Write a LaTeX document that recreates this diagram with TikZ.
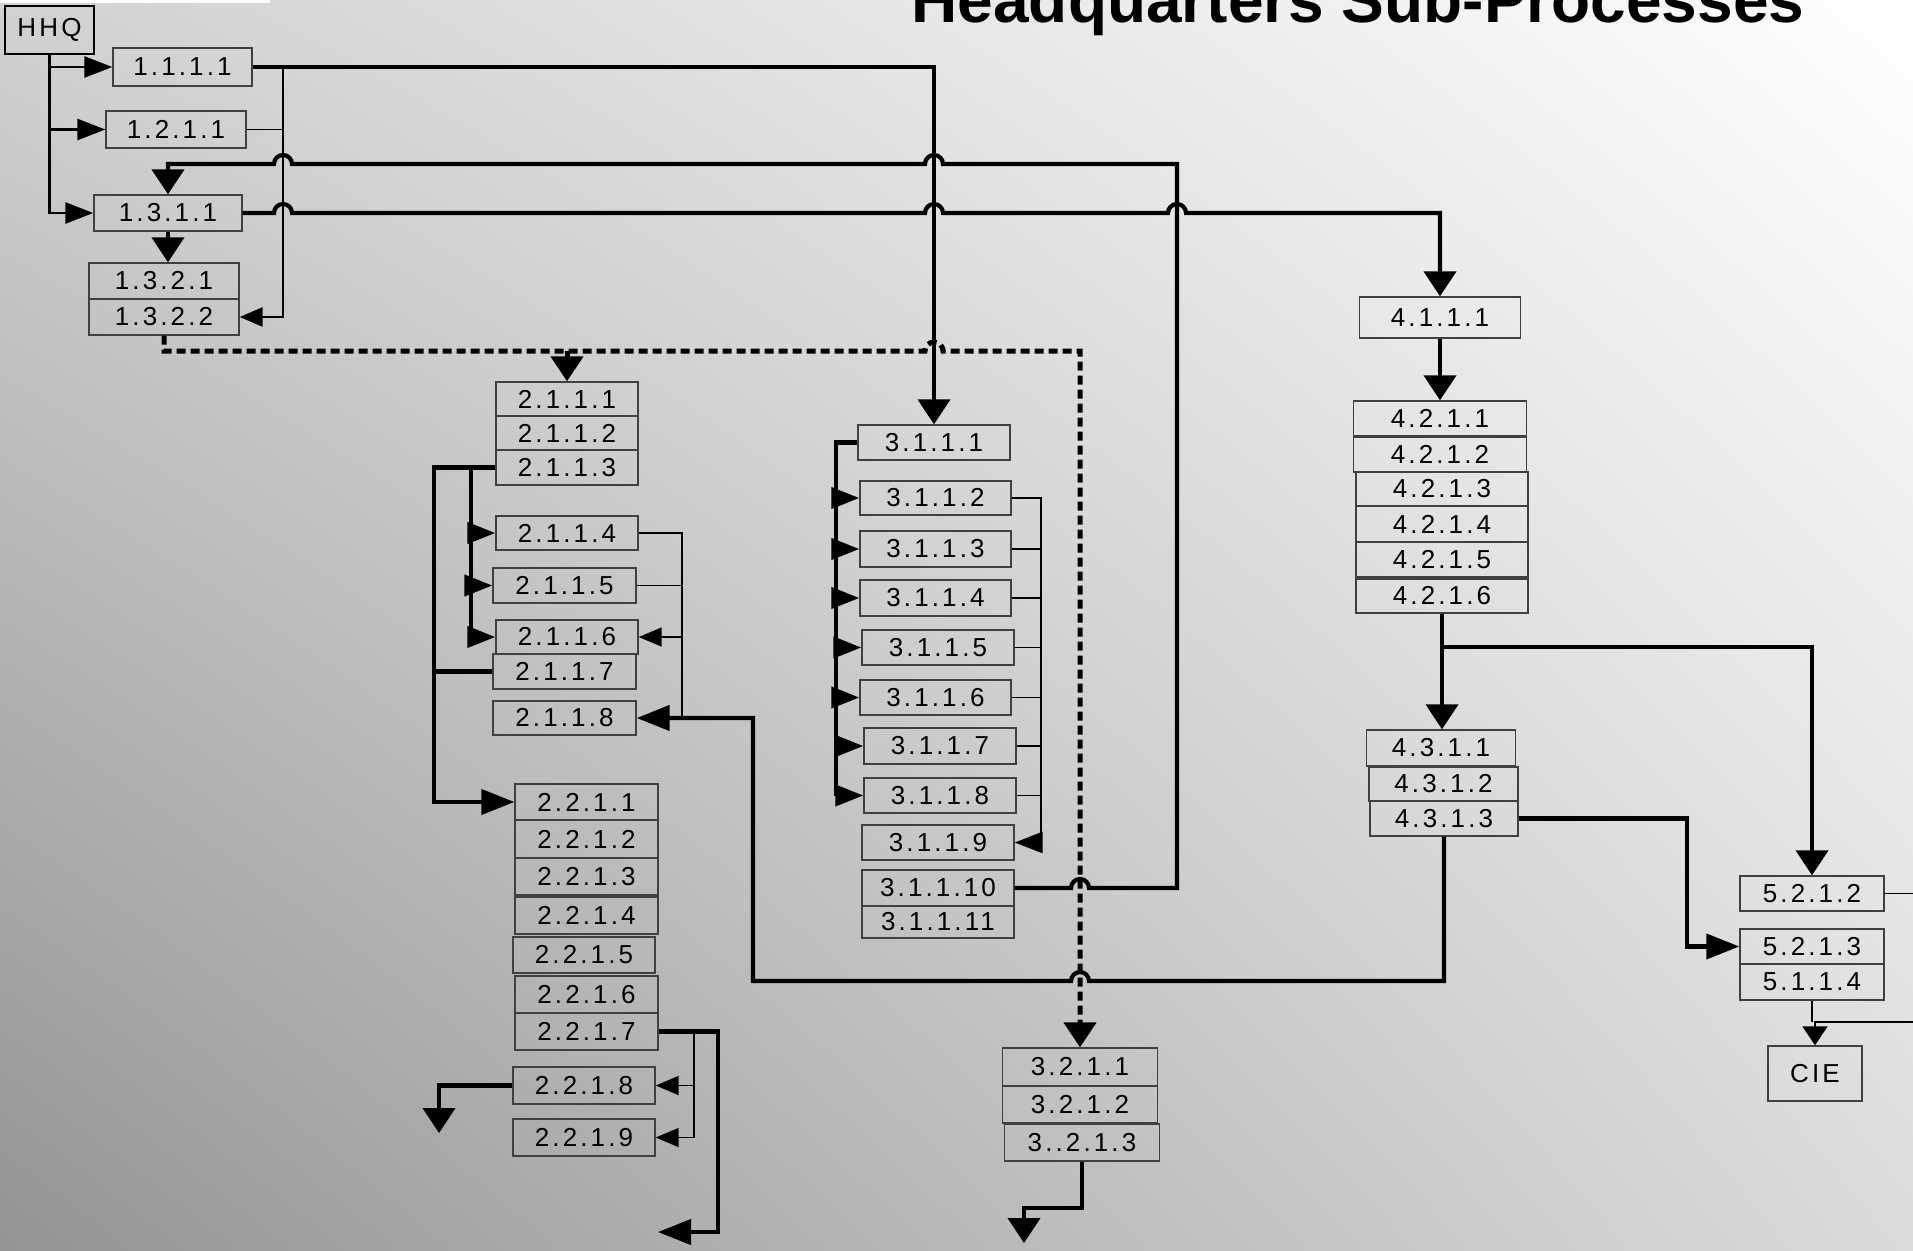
\documentclass[tikz,border=0pt]{standalone}
\usepackage{fontspec}
\setmainfont{Liberation Sans}
\newfontfamily\lblfont[LetterSpace=12]{Liberation Sans}
\usetikzlibrary{arrows.meta,shadings}
\tikzset{
  harrow/.tip={Triangle[length=28pt,width=21pt]},
  barrow/.tip={Triangle[length=33pt,width=25pt]},
  varrow/.tip={Triangle[length=25pt,width=32pt]},
  sarrow/.tip={Triangle[length=23pt,width=19pt]},
  carrow/.tip={Triangle[length=19pt,width=25pt]},
}
\begin{document}
\begin{tikzpicture}[x=1pt,y=-1pt,
    proc/.style={draw=black!75,line width=1.4pt,inner sep=0pt,font=\lblfont\fontsize{26}{28}\selectfont},
    sz/.style 2 args={minimum width=#1pt,minimum height=#2pt},
    heavyline/.style={line width=4.2pt},
    midline/.style={line width=2.8pt},
    thinline/.style={line width=1.6pt},
    dashline/.style={line width=5pt,dash pattern=on 9pt off 5pt}]
  \useasboundingbox (0,0) rectangle (1913,1250);
  \shade[upper left=black!18,upper right=white,lower left=black!42,lower right=black!14] (0,0) rectangle (1913,1250);
  \fill[white] (0,0) rectangle (270,3);
  \begin{scope}
    \clip (0,0) rectangle (1913,1250);
    \node[font=\fontsize{64}{70}\selectfont\bfseries,anchor=base] (title) at (1358,22) {Headquarters Sub-Processes};
  \end{scope}

  \node[proc,sz={89}{48},draw=black,line width=2.4pt] (hhq) at (49.5,30) {HHQ};
  \node[proc,sz={139}{38}] (p1111) at (182.5,67) {1.1.1.1};
  \node[proc,sz={140}{37}] (p1211) at (176,129.5) {1.2.1.1};
  \node[proc,sz={148}{36}] (p1311) at (168,213) {1.3.1.1};
  \node[proc,sz={150}{36}] (p1321) at (164,281) {1.3.2.1};
  \node[proc,sz={150}{36}] (p1322) at (164,317) {1.3.2.2};

  \node[proc,sz={142}{34}] (p2111) at (567,399) {2.1.1.1};
  \node[proc,sz={142}{34}] (p2112) at (567,433) {2.1.1.2};
  \node[proc,sz={142}{35}] (p2113) at (567,467.5) {2.1.1.3};
  \node[proc,sz={142}{34}] (p2114) at (567,533) {2.1.1.4};
  \node[proc,sz={143}{35}] (p2115) at (564.5,585.5) {2.1.1.5};
  \node[proc,sz={142}{34}] (p2116) at (567,637) {2.1.1.6};
  \node[proc,sz={143}{35}] (p2117) at (564.5,671.5) {2.1.1.7};
  \node[proc,sz={143}{34}] (p2118) at (564.5,718) {2.1.1.8};

  \node[proc,sz={143}{36}] (p2211) at (586.5,802) {2.2.1.1};
  \node[proc,sz={143}{38}] (p2212) at (586.5,839) {2.2.1.2};
  \node[proc,sz={143}{37}] (p2213) at (586.5,876.5) {2.2.1.3};
  \node[proc,sz={143}{37}] (p2214) at (586.5,915.5) {2.2.1.4};
  \node[proc,sz={142}{36}] (p2215) at (584,955) {2.2.1.5};
  \node[proc,sz={143}{37}] (p2216) at (586.5,994.5) {2.2.1.6};
  \node[proc,sz={143}{37}] (p2217) at (586.5,1031.5) {2.2.1.7};
  \node[proc,sz={142}{37}] (p2218) at (584,1085.5) {2.2.1.8};
  \node[proc,sz={142}{37}] (p2219) at (584,1137.5) {2.2.1.9};

  \node[proc,sz={152}{35}] (p3111) at (934,442.5) {3.1.1.1};
  \node[proc,sz={151}{34}] (p3112) at (935.5,498) {3.1.1.2};
  \node[proc,sz={151}{36}] (p3113) at (935.5,549) {3.1.1.3};
  \node[proc,sz={151}{36}] (p3114) at (935.5,598) {3.1.1.4};
  \node[proc,sz={152}{35}] (p3115) at (938,647.5) {3.1.1.5};
  \node[proc,sz={151}{35}] (p3116) at (935.5,697.5) {3.1.1.6};
  \node[proc,sz={152}{36}] (p3117) at (940,746) {3.1.1.7};
  \node[proc,sz={152}{35}] (p3118) at (940,795.5) {3.1.1.8};
  \node[proc,sz={152}{35}] (p3119) at (938,842.5) {3.1.1.9};
  \node[proc,sz={152}{36}] (p31110) at (938,888) {3.1.1.10};
  \node[proc,sz={152}{32}] (p31111) at (938,922) {3.1.1.11};

  \node[proc,sz={155}{38}] (p3211) at (1080,1067) {3.2.1.1};
  \node[proc,sz={155}{37}] (p3212) at (1080,1104.5) {3.2.1.2};
  \node[proc,sz={155}{37}] (p3213) at (1082,1142.5) {3..2.1.3};

  \node[proc,sz={161}{41}] (p4111) at (1440,317.5) {4.1.1.1};
  \node[proc,sz={173}{35}] (p4211) at (1440,418.5) {4.2.1.1};
  \node[proc,sz={173}{35}] (p4212) at (1440,454.5) {4.2.1.2};
  \node[proc,sz={172}{34}] (p4213) at (1442,489) {4.2.1.3};
  \node[proc,sz={172}{36}] (p4214) at (1442,524) {4.2.1.4};
  \node[proc,sz={172}{35}] (p4215) at (1442,559.5) {4.2.1.5};
  \node[proc,sz={172}{34}] (p4216) at (1442,596) {4.2.1.6};
  \node[proc,sz={149}{36}] (p4311) at (1441,748) {4.3.1.1};
  \node[proc,sz={149}{34}] (p4312) at (1443.5,784) {4.3.1.2};
  \node[proc,sz={148}{35}] (p4313) at (1444,818.5) {4.3.1.3};

  \node[proc,sz={144}{35}] (p5212) at (1812,893.5) {5.2.1.2};
  \node[proc,sz={144}{35}] (p5213) at (1812,946.5) {5.2.1.3};
  \node[proc,sz={144}{36}] (p5114) at (1812,982) {5.1.1.4};
  \node[proc,sz={94}{55}] (cie) at (1815,1073.5) {CIE};

  \coordinate (jA) at (283,67);
  \coordinate (dA) at (164,351);
  \coordinate (bA) at (434,467.5);
  \coordinate (bB) at (471,467.5);
  \coordinate (bC) at (682,533);
  \coordinate (bD) at (694,1031.5);
  \coordinate (bE) at (836,442.5);
  \coordinate (bF) at (1041,498);
  \coordinate (fork) at (1442,647);
  \coordinate (out1) at (439,1133);
  \coordinate (out2) at (658,1232);
  \coordinate (out3) at (1024,1243);
  \coordinate (edge1) at (1913,893.5);
  \coordinate (edge2) at (1913,1022);

  \draw[midline,-harrow] (hhq.south) |- (p1311.west);
  \draw[midline,-harrow] (hhq.south |- p1111.west) -- (p1111.west);
  \draw[midline,-harrow] (hhq.south |- p1211.west) -- (p1211.west);
  \draw[heavyline,-varrow] (p1111.east) -| (p3111.north);
  \draw[midline,-sarrow] (jA) |- (p1322.east);
  \draw[thinline] (p1211.east) -- (p1211.east -| jA);
  \draw[heavyline,-varrow] (p1311.south) -- (p1311.south |- p1321.north);
  \draw[heavyline,-varrow] (p1311.east) -- (274,213) arc[start angle=180,end angle=0,radius=9pt]
    -- (925,213) arc[start angle=180,end angle=0,radius=9pt]
    -- (1168,213) arc[start angle=180,end angle=0,radius=9pt] -| (p4111.north);
  \draw[heavyline,-varrow] (p31110.east) -- (1071,888) arc[start angle=180,end angle=0,radius=9pt]
    -- (1177,888) -- (1177,164) -- (943,164) arc[start angle=0,end angle=180,radius=9pt]
    -- (292,164) arc[start angle=0,end angle=180,radius=9pt] -| (p1311.north);
  \draw[dashline,-varrow] (p1322.south) |- (925,351) arc[start angle=180,end angle=0,radius=9pt] -| (p3211.north);
  \draw[dashline,-varrow] (dA -| p2111.north) -- (p2111.north);

  \draw[heavyline,-barrow] (p2113.west) -| (bA |- p2211.west) -- (p2211.west);
  \draw[heavyline] (bB) -- (bB |- p2116.west);
  \foreach \n in {p2114,p2115,p2116}
    \draw[heavyline,-harrow] (bB |- \n.west) -- (\n.west);
  \draw[heavyline] (p2117.west) -- (p2117.west -| bA);
  \draw[thinline] (p2114.east) -| (bC |- p2118.east);
  \draw[thinline] (p2115.east) -- (p2115.east -| bC);
  \draw[thinline,-sarrow] (bC |- p2116.east) -- (p2116.east);
  \draw[heavyline,-barrow] (p4313.south) |- (1089,981) arc[start angle=0,end angle=180,radius=9pt]
    -| (753,718) -- (p2118.east);

  \draw[heavyline,-barrow] (p2217.east) -| (718,1232) -- (out2);
  \draw[thinline] (bD) -- (bD |- p2219.east);
  \draw[thinline,-sarrow] (bD |- p2218.east) -- (p2218.east);
  \draw[thinline,-sarrow] (bD |- p2219.east) -- (p2219.east);
  \draw[heavyline,-varrow] (p2218.west) -| (out1);

  \draw[heavyline] (p3111.west) -| (bE |- p3118.west);
  \foreach \n in {p3112,p3113,p3114,p3115,p3116,p3117,p3118}
    \draw[heavyline,-harrow] (bE |- \n.west) -- (\n.west);
  \draw[midline,-harrow] (p3112.east) -| (bF |- p3119.east) -- (p3119.east);
  \foreach \n in {p3113,p3114,p3115,p3116,p3117,p3118}
    \draw[thinline] (\n.east) -- (\n.east -| bF);
  \draw[heavyline,-varrow] (p3213.south) |- (1024,1208) -- (out3);

  \draw[heavyline,-varrow] (p4111.south) -- (p4211.north);
  \draw[heavyline] (p4216.south) -- (fork);
  \draw[heavyline,-varrow] (fork) -- (fork |- p4311.north);
  \draw[heavyline,-varrow] (fork) -| (p5212.north);
  \draw[heavyline,-barrow] (p4313.east) -| (1687,946.5) -- (p5213.west);
  \draw[thinline] (p5212.east) -- (edge1);
  \draw[thinline] (p5114.south) -- (p5114.south |- edge2);
  \draw[thinline,-carrow] (edge2) -| (cie.north);
\end{tikzpicture}
\end{document}
